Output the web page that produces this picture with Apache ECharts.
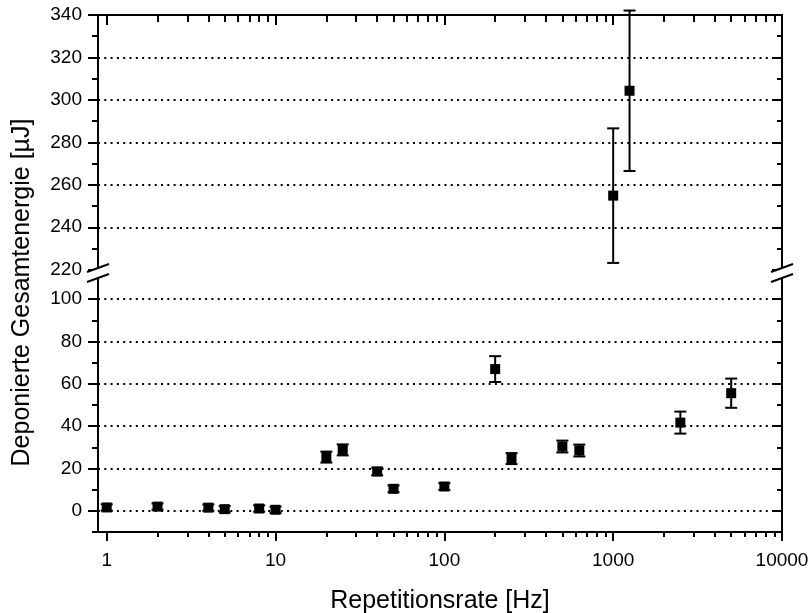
<!DOCTYPE html>
<html>
<head>
<meta charset="utf-8">
<script src="https://cdn.jsdelivr.net/npm/echarts@6/dist/echarts.min.js"></script>
<style>
  html, body { margin: 0; padding: 0; background: #fff; }
  #chart { width: 811px; height: 613px; }
</style>
</head>
<body>
<div id="chart"></div>
<script>
// Measured deposited energy vs. repetition rate
const repetitionRateHz = [1, 2, 4, 5, 8, 10, 20, 25, 40, 50, 100, 200, 250, 500, 630, 1000, 1250, 2500, 5000];
const depositedEnergyUJ = [1.6, 2.0, 1.5, 0.8, 1.1, 0.5, 25.4, 28.8, 18.6, 10.4, 11.5, 67.0, 24.7, 30.4, 28.5, 254.9, 304.3, 41.7, 55.6];
const energyErrorUJ = [1.5, 1.5, 1.5, 1.5, 1.5, 1.5, 2.6, 2.6, 1.8, 1.6, 1.6, 6.1, 2.6, 2.8, 2.8, 31.7, 37.8, 5.2, 6.9];

// Axis ticks and labels
const xMajorTicks = [1, 10, 100, 1000, 10000];
const yLowerTicks = [0, 20, 40, 60, 80, 100];
const yLowerMinorTicks = [-10, 10, 30, 50, 70, 90];
const yUpperTicks = [220, 240, 260, 280, 300, 320, 340];
const yUpperMinorTicks = [230, 250, 270, 290, 310, 330];
const yLowerGridLines = [0, 20, 40, 60, 80, 100];
const yUpperGridLines = [240, 260, 280, 300, 320];

// Axis ranges (the y axis is broken between the two panels)
const X_MIN = 0.888, X_MAX = 10000;
const Y_LOWER_MIN = -10, Y_LOWER_MAX = 112.4;
const Y_UPPER_MIN = 218.45, Y_UPPER_MAX = 340;

// log-axis minor ticks 2..9 of each decade
const xMinorTicks = [];
for (let d = 1; d < 10000; d *= 10) {
  for (let k = 2; k <= 9; k++) xMinorTicks.push(k * d);
}

const FONT = '"Liberation Sans", Arial, Helvetica, sans-serif';
const INK = '#000';
const AXIS_W = 2;

function xAxisDef(gridIndex, position, ticks, len, inside, opts) {
  opts = opts || {};
  return Object.assign({
    type: 'log', gridIndex, position, min: X_MIN, max: X_MAX,
    axisLine: { show: !!opts.line, onZero: false, lineStyle: { color: INK, width: AXIS_W } },
    axisTick: { show: true, customValues: ticks, inside, length: len, lineStyle: { color: INK, width: AXIS_W } },
    axisLabel: { show: false },
    splitLine: { show: false },
    minorTick: { show: false }
  }, opts.extra || {});
}

function yAxisDef(gridIndex, position, min, max, ticks, len, inside, opts) {
  opts = opts || {};
  return Object.assign({
    type: 'value', gridIndex, position, min, max,
    axisLine: { show: !!opts.line, onZero: false, lineStyle: { color: INK, width: AXIS_W } },
    axisTick: { show: len > 0, customValues: ticks, inside, length: len, lineStyle: { color: INK, width: AXIS_W } },
    axisLabel: { show: false },
    splitLine: { show: false }
  }, opts.extra || {});
}

const gridLineStyle = { color: INK, width: 2, type: [2, 4.3] };

const xAxes = [
  // upper panel: top frame
  xAxisDef(0, 'top', xMajorTicks, 10, true, { line: true }),
  xAxisDef(0, 'top', xMinorTicks, 7, true),
  // lower panel: bottom axis with labels
  xAxisDef(1, 'bottom', xMajorTicks, 9, false, {
    line: true,
    extra: {
      name: 'Repetitionsrate [Hz]',
      nameLocation: 'middle',
      nameGap: 57,
      nameTextStyle: { fontFamily: FONT, fontSize: 25, color: INK },
      axisLabel: {
        show: true, customValues: xMajorTicks, margin: 19,
        fontFamily: FONT, fontSize: 19, color: INK,
        formatter: v => String(Math.round(v))
      }
    }
  }),
  xAxisDef(1, 'bottom', xMinorTicks, 5, false)
];

const labelStyle = { show: true, margin: 16, fontFamily: FONT, fontSize: 19, color: INK };

const yAxes = [
  // upper panel
  yAxisDef(0, 'left', Y_UPPER_MIN, Y_UPPER_MAX, yUpperTicks, 10, false, {
    line: true, extra: { axisLabel: Object.assign({ customValues: yUpperTicks }, labelStyle) }
  }),
  yAxisDef(0, 'left', Y_UPPER_MIN, Y_UPPER_MAX, yUpperMinorTicks, 6, false),
  yAxisDef(0, 'right', Y_UPPER_MIN, Y_UPPER_MAX, yUpperTicks, 10, true, { line: true }),
  yAxisDef(0, 'right', Y_UPPER_MIN, Y_UPPER_MAX, yUpperMinorTicks, 5, true),
  yAxisDef(0, 'left', Y_UPPER_MIN, Y_UPPER_MAX, yUpperGridLines, 0, false, {
    extra: { splitLine: { show: true, lineStyle: gridLineStyle } }
  }),
  // lower panel
  yAxisDef(1, 'left', Y_LOWER_MIN, Y_LOWER_MAX, yLowerTicks, 10, false, {
    line: true, extra: { axisLabel: Object.assign({ customValues: yLowerTicks }, labelStyle) }
  }),
  yAxisDef(1, 'left', Y_LOWER_MIN, Y_LOWER_MAX, yLowerMinorTicks, 6, false),
  yAxisDef(1, 'right', Y_LOWER_MIN, Y_LOWER_MAX, yLowerTicks, 10, true, { line: true }),
  yAxisDef(1, 'right', Y_LOWER_MIN, Y_LOWER_MAX, yLowerMinorTicks, 5, true),
  yAxisDef(1, 'left', Y_LOWER_MIN, Y_LOWER_MAX, yLowerGridLines, 0, false, {
    extra: { splitLine: { show: true, lineStyle: gridLineStyle } }
  })
];

// split the points between the two panels
const upperPts = [], lowerPts = [];
repetitionRateHz.forEach((f, i) => {
  const p = [f, depositedEnergyUJ[i], energyErrorUJ[i]];
  (depositedEnergyUJ[i] >= Y_UPPER_MIN ? upperPts : lowerPts).push(p);
});

function errorBars(params, api) {
  const x = api.value(0), y = api.value(1), e = api.value(2);
  const hi = api.coord([x, y + e]);
  const lo = api.coord([x, y - e]);
  const hw = 6;
  const st = { stroke: INK, lineWidth: 2 };
  return {
    type: 'group',
    children: [
      { type: 'line', shape: { x1: hi[0], y1: hi[1], x2: lo[0], y2: lo[1] }, style: st },
      { type: 'line', shape: { x1: hi[0] - hw, y1: hi[1], x2: hi[0] + hw, y2: hi[1] }, style: st },
      { type: 'line', shape: { x1: lo[0] - hw, y1: lo[1], x2: lo[0] + hw, y2: lo[1] }, style: st }
    ]
  };
}

function panelSeries(pts, xi, yi) {
  return [
    {
      type: 'custom', xAxisIndex: xi, yAxisIndex: yi, data: pts,
      encode: { x: 0, y: 1 }, renderItem: errorBars, clip: false, silent: true, z: 3
    },
    {
      type: 'scatter', xAxisIndex: xi, yAxisIndex: yi, data: pts,
      encode: { x: 0, y: 1 }, symbol: 'rect', symbolSize: 10,
      itemStyle: { color: INK, opacity: 1 }, silent: true, z: 4
    }
  ];
}

const chart = echarts.init(document.getElementById('chart'), null, { renderer: 'canvas' });

chart.setOption({
  animation: false,
  backgroundColor: '#fff',
  grid: [
    { left: 98, right: 29, top: 15, height: 258, containLabel: false, outerBoundsMode: 'none' },
    { left: 98, right: 29, top: 273, height: 259, containLabel: false, outerBoundsMode: 'none' }
  ],
  xAxis: xAxes,
  yAxis: yAxes,
  series: [].concat(panelSeries(upperPts, 0, 0), panelSeries(lowerPts, 2, 5))
});

// axis title and break marks
const xl = chart.convertToPixel({ xAxisIndex: 2 }, X_MIN);
const xr = chart.convertToPixel({ xAxisIndex: 2 }, X_MAX);
const yb = chart.convertToPixel({ yAxisIndex: 5 }, Y_LOWER_MAX);
const yTop = chart.convertToPixel({ yAxisIndex: 0 }, Y_UPPER_MAX);
const yBot = chart.convertToPixel({ yAxisIndex: 5 }, Y_LOWER_MIN);

function breakMark(cx) {
  const hx = 11, hy = 4, gap = 5;
  const s = { stroke: INK, lineWidth: 2 };
  return [
    { type: 'polygon', z: 50,
      shape: { points: [[cx - hx, yb - gap + hy], [cx + hx, yb - gap - hy], [cx + hx, yb + gap - hy], [cx - hx, yb + gap + hy]] },
      style: { fill: '#fff', stroke: null } },
    { type: 'line', z: 51, shape: { x1: cx - hx, y1: yb - gap + hy, x2: cx + hx, y2: yb - gap - hy }, style: s },
    { type: 'line', z: 51, shape: { x1: cx - hx, y1: yb + gap + hy, x2: cx + hx, y2: yb + gap - hy }, style: s }
  ];
}

chart.setOption({
  graphic: [].concat(
    breakMark(xl),
    breakMark(xr),
    [{
      type: 'text', x: 22, y: (yTop + yBot) / 2 + 19, rotation: Math.PI / 2,
      style: {
        text: 'Deponierte Gesamtenergie [µJ]', font: '25px ' + FONT, fill: INK,
        textAlign: 'center', textVerticalAlign: 'middle'
      }
    }]
  )
});
</script>
</body>
</html>
